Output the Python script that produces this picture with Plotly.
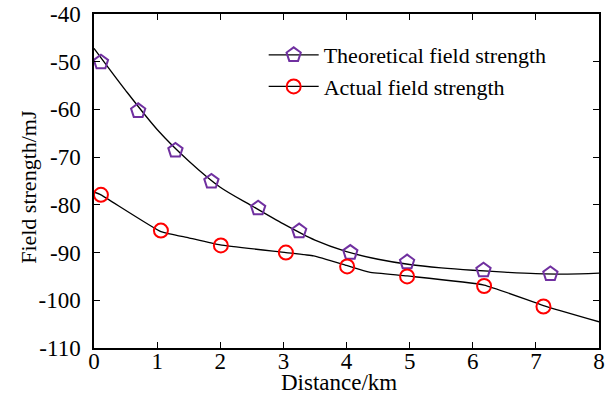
import plotly.graph_objects as go

# Marker data
theo_x = [0.11, 0.70, 1.29, 1.86, 2.60, 3.25, 4.06, 4.96, 6.17, 7.23]
theo_y = [-50.1, -60.3, -68.6, -75.1, -80.7, -85.5, -90.0, -92.0, -93.7, -94.5]
act_x = [0.11, 1.06, 2.01, 3.04, 4.01, 4.96, 6.18, 7.12]
act_y = [-77.9, -85.4, -88.5, -90.0, -92.9, -95.0, -97.0, -101.3]

# Fitted curves
theo_curve_x = [0, 0.5, 1, 1.5, 2, 2.5, 3, 3.5, 4, 4.5, 5, 5.5, 6, 6.5, 7, 7.5, 8]
theo_curve_y = [-47.2, -56.0, -64.2, -70.8, -76.3, -80.2, -84.0, -87.4, -89.8, -91.4,
                -92.5, -93.2, -93.7, -94.1, -94.4, -94.5, -94.3]
act_curve_x = [0, 0.11, 1.06, 1.5, 2.0, 3.04, 3.48, 4.0, 4.36, 4.96, 6.18, 7.12, 8]
act_curve_y = [-77.3, -77.9, -85.6, -86.9, -88.4, -90.0, -90.7, -92.7, -94.1, -94.9,
               -96.8, -101.1, -104.5]

x_ticks = [0, 1, 2, 3, 4, 5, 6, 7, 8]
y_ticks = [-110, -100, -90, -80, -70, -60, -50, -40]

x_title = "Distance/km"
y_title = "Field strength/mJ"

FONT = "Liberation Serif, Times New Roman, serif"
PURPLE = "#7030A0"
RED = "#FF0000"

fig = go.Figure()

# curves
fig.add_trace(go.Scatter(x=theo_curve_x, y=theo_curve_y, mode="lines",
                         line=dict(color="black", width=1.3, shape="spline", smoothing=0.8),
                         showlegend=False, hoverinfo="skip"))
fig.add_trace(go.Scatter(x=act_curve_x, y=act_curve_y, mode="lines",
                         line=dict(color="black", width=1.3, shape="spline", smoothing=0.4),
                         showlegend=False, hoverinfo="skip"))
# markers
fig.add_trace(go.Scatter(x=theo_x, y=theo_y, mode="markers",
                         marker=dict(symbol="pentagon-open", size=15, color=PURPLE,
                                     line=dict(width=2, color=PURPLE)),
                         showlegend=False))
fig.add_trace(go.Scatter(x=act_x, y=act_y, mode="markers",
                         marker=dict(symbol="circle-open", size=14, color=RED,
                                     line=dict(width=2, color=RED)),
                         showlegend=False))
# legend entries
fig.add_trace(go.Scatter(x=[None], y=[None], mode="lines+markers",
                         name="Theoretical field strength",
                         line=dict(color="black", width=1.3),
                         marker=dict(symbol="pentagon-open", size=15, color=PURPLE,
                                     line=dict(width=2, color=PURPLE))))
fig.add_trace(go.Scatter(x=[None], y=[None], mode="lines+markers",
                         name="Actual field strength",
                         line=dict(color="black", width=1.3),
                         marker=dict(symbol="circle-open", size=14, color=RED,
                                     line=dict(width=2, color=RED))))

axis_common = dict(showline=True, linecolor="black", linewidth=1.5, mirror="ticks",
                   ticks="inside", ticklen=6, tickwidth=1.3, tickcolor="black",
                   showgrid=False, zeroline=False, automargin=False,
                   tickfont=dict(family=FONT, size=23, color="black"))

fig.update_layout(
    width=610, height=395,
    margin=dict(l=94, r=11, t=14, b=47),
    paper_bgcolor="white", plot_bgcolor="white",
    font=dict(family=FONT, size=22, color="black"),
    xaxis=dict(range=[0, 8], tickvals=x_ticks, ticktext=[str(v) for v in x_ticks],
               ticklabelstandoff=-8, **axis_common),
    yaxis=dict(range=[-110, -40], tickvals=y_ticks, ticktext=["-" + str(-v) for v in y_ticks],
               ticklabelstandoff=7, **axis_common),
    legend=dict(x=0.336, y=0.94, xanchor="left", yanchor="top",
                bgcolor="rgba(0,0,0,0)", borderwidth=0,
                font=dict(family=FONT, size=22, color="black"),
                itemwidth=50, tracegroupgap=0),
    showlegend=True,
    annotations=[
        dict(text=x_title, xref="paper", yref="paper", x=0.485, y=-0.104,
             xanchor="center", yanchor="middle", showarrow=False,
             font=dict(family=FONT, size=23, color="black")),
        dict(text=y_title, xref="paper", yref="paper", x=-0.131, y=0.482,
             xanchor="center", yanchor="middle", showarrow=False, textangle=-90,
             font=dict(family=FONT, size=22, color="black")),
    ],
)

fig.write_html("out.html", config={"displayModeBar": False},
               post_script="document.body.style.margin='0px';")
